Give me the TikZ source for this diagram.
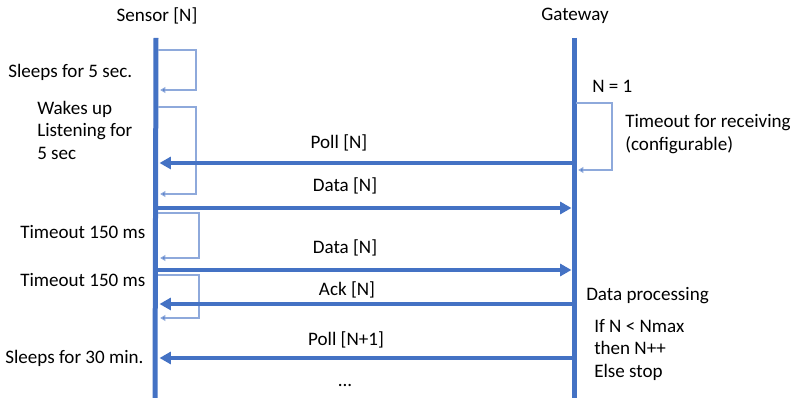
\documentclass[tikz,border=0pt]{standalone}
\usepackage{fontspec}
\setmainfont{Carlito}
\usetikzlibrary{arrows.meta,positioning}
\definecolor{lineblue}{HTML}{4472C4}
\definecolor{loopblue}{HTML}{8EA9DB}

\begin{document}
\begin{tikzpicture}[x=0.75pt,y=-0.75pt,
  every node/.style={font=\fontsize{14.3}{16.9}\selectfont, inner sep=0pt, text=black},
  lifeline/.style={draw=lineblue, line width=3.75pt},
  msg/.style={draw=lineblue, line width=3pt, shorten >=1.9pt, -{Triangle[length=8.5pt,width=9pt]}},
  waitloop/.style={draw=loopblue, line width=0.8pt, shorten >=1.6pt, -{Triangle[length=4pt,width=4.5pt,fill=lineblue]}},
  note/.style={align=left, anchor=west},
]
\useasboundingbox (0,0) rectangle (797,398);

% lifelines
\node (sensor) at (157,16) {Sensor [N]};
\node (gateway) at (575,16) {Gateway};
\coordinate (stop) at (156,38);  \coordinate (sbot) at (155,398);
\coordinate (gtop) at (574,38);  \coordinate (gbot) at (574,398);
\draw[lifeline] (stop) -- (sbot);
\draw[lifeline] (gtop) -- (gbot);

% waiting loops on the sensor side
\foreach \n/\ya/\yb/\xr in {sleep/50/90/196, listen/107/194/196, tA/213/258/199, tB/275/318/199}{
  \coordinate (\n-a) at (158,\ya);
  \coordinate (\n-b) at (158,\yb);
  \draw[waitloop] (\n-a) -| (\xr,\yb) -- (\n-b);
}
% waiting loop on the gateway side
\coordinate (recv-a) at (576,103);
\coordinate (recv-b) at (576,170);
\draw[waitloop] (recv-a) -| (612,170) -- (recv-b);

% messages
\foreach \i/\y in {1/163, 2/208, 3/270, 4/304, 5/358}{
  \coordinate (s\i) at (157,\y);
  \coordinate (g\i) at (574,\y);
}
\draw[msg] (g1) -- (s1);
\draw[msg] (s2) -- (g2);
\draw[msg] (s3) -- (g3);
\draw[msg] (g4) -- (s4);
\draw[msg] (g5) -- (s5);
\node (poll) at (339,143) {Poll [N]};
\node (data) at (345,186) {Data [N]};
\node (dataB) at (345,248) {Data [N]};
\node (ack) at (347,290) {Ack [N]};
\node (pollB) at (346,340) {Poll [N+1]};
\node (dots) at (345,385) {...};

% sensor notes
\node[note] (sleepA) at (8,72) {Sleeps for 5 sec.};
\node[note] (wake) at (37,130) {Wakes up\\Listening for\\5 sec};
\node[note] (toA) at (20,232) {Timeout 150 ms};
\node[note] (toB) at (20,280) {Timeout 150 ms};
\node[note] (sleepB) at (5,358) {Sleeps for 30 min.};

% gateway notes
\node[note] (init) at (592,86) {N = 1};
\node[note] (recv) at (625,134) {Timeout for receiving\\(configurable)};
\node[note] (proc) at (586,296) {Data processing};
\node[note] (loop) at (594,350) {If N < Nmax\\then N++\\Else stop};
\end{tikzpicture}
\end{document}
